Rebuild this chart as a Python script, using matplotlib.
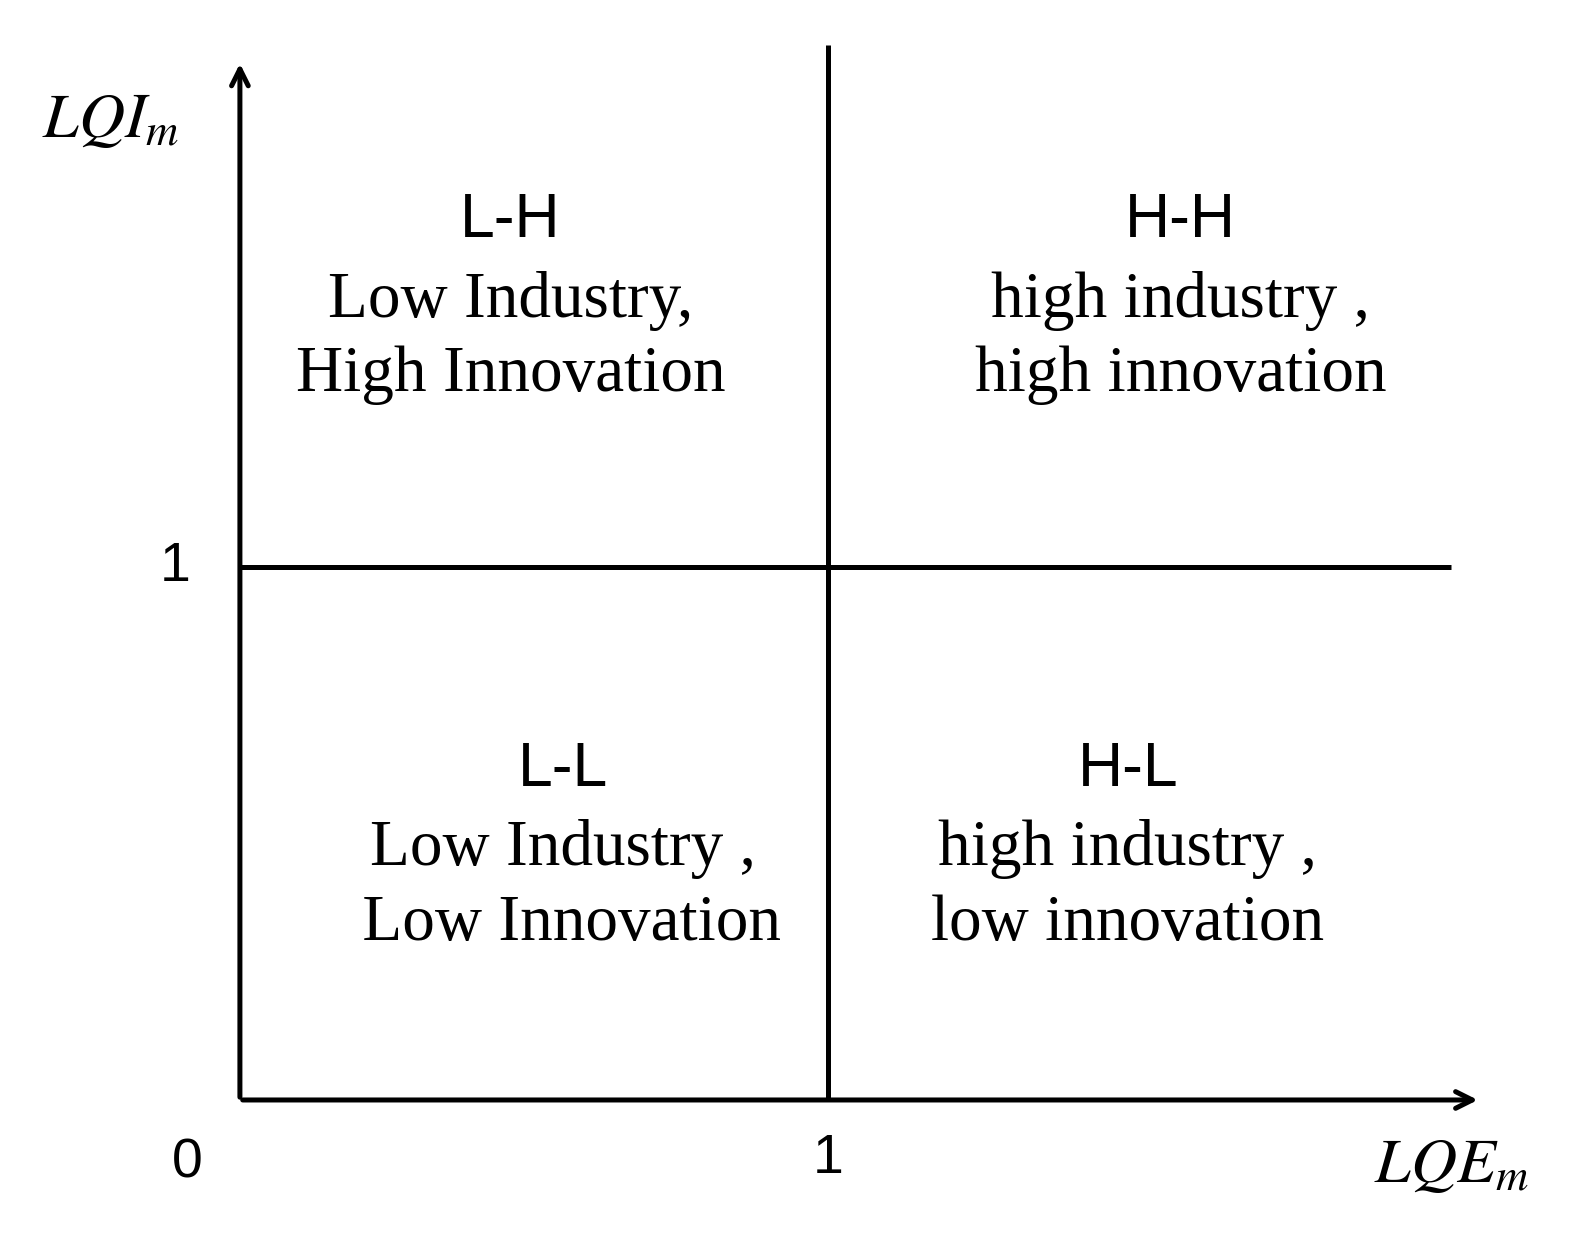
import matplotlib
matplotlib.use("Agg")
import matplotlib.pyplot as plt

plt.rcParams['mathtext.fontset'] = 'stix'

quad_codes = ["L-H", "H-H", "L-L", "H-L"]
quad_line1 = ["Low Industry,", "high industry ,", "Low Industry ,", "high industry ,"]
quad_line2 = ["High Innovation", "high innovation", " Low Innovation", "low innovation"]
quad_pos = [(0.46, 1.65), (1.60, 1.65), (0.55, 0.62), (1.51, 0.62)]
x_ticks = [0, 1]
y_ticks = [1]
threshold = 1

fig = plt.figure(figsize=(15.9, 12.46), dpi=100)
ax = fig.add_axes([0, 0, 1, 1])
ax.set_xlim(-0.408, 2.296)
ax.set_ylim(-0.274, 2.064)
ax.axis('off')

lw = 3.6
ax.annotate("", xy=(2.11, 0), xytext=(0, 0),
            arrowprops=dict(arrowstyle="->,head_length=1.2,head_width=0.6", lw=lw, color='black'))
ax.annotate("", xy=(0, 1.95), xytext=(0, 0),
            arrowprops=dict(arrowstyle="->,head_length=1.2,head_width=0.6", lw=lw, color='black'))
ax.plot([threshold, threshold], [0, 1.98], color='black', lw=lw, solid_capstyle='butt')
ax.plot([0, 2.06], [threshold, threshold], color='black', lw=lw, solid_capstyle='butt')

sans = 'Liberation Sans'
serif = 'Liberation Serif'
for code, l1, l2, (x, y) in zip(quad_codes, quad_line1, quad_line2, quad_pos):
    ax.text(x, y, code, family=sans, fontsize=45, ha='center', va='center')
    ax.text(x, y - 0.15, l1, family=serif, fontsize=47, ha='center', va='center')
    ax.text(x, y - 0.29, l2, family=serif, fontsize=47, ha='center', va='center')

ax.text(-0.11, y_ticks[0], str(y_ticks[0]), family=sans, fontsize=40, ha='center', va='center')
ax.text(-0.09, -0.12, str(x_ticks[0]), family=sans, fontsize=40, ha='center', va='center')
ax.text(x_ticks[1], -0.11, str(x_ticks[1]), family=sans, fontsize=40, ha='center', va='center')
ax.text(-0.22, 1.84, r"$LQI_m$", fontsize=46, ha='center', va='center')
ax.text(2.06, -0.12, r"$LQE_m$", fontsize=46, ha='center', va='center')

fig.savefig("out.png", dpi=100)
